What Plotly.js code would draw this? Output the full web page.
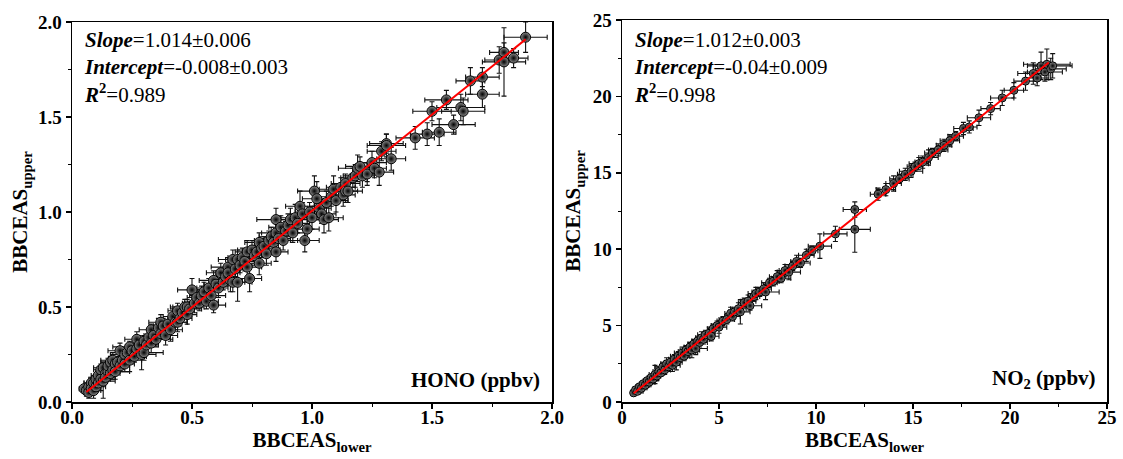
<!DOCTYPE html>
<html><head><meta charset="utf-8">
<script src="https://cdn.plot.ly/plotly-3.0.1.min.js"></script>
<style>html,body{margin:0;padding:0;background:#fff}#c{width:1123px;height:459px}</style>
</head><body><div id="c"></div>
<script>
// HONO panel
const honoX = [0.05,0.06,0.07,0.07,0.08,0.08,0.09,0.09,0.10,0.10,0.11,0.11,0.12,0.12,0.13,0.13,0.14,0.14,0.15,0.15,0.16,0.16,0.17,0.17,0.18,0.18,0.19,0.20,0.20,0.21,0.22,0.22,0.23,0.24,0.24,0.25,0.26,0.27,0.27,0.28,0.29,0.30,0.30,0.31,0.32,0.33,0.33,0.34,0.35,0.36,0.37,0.37,0.38,0.39,0.40,0.41,0.42,0.43,0.44,0.44,0.45,0.46,0.47,0.48,0.48,0.49,0.50,0.51,0.52,0.53,0.54,0.55,0.56,0.57,0.58,0.59,0.59,0.60,0.61,0.62,0.63,0.64,0.65,0.65,0.66,0.67,0.67,0.68,0.69,0.69,0.70,0.71,0.72,0.73,0.73,0.74,0.75,0.76,0.77,0.78,0.78,0.79,0.80,0.81,0.82,0.83,0.84,0.85,0.85,0.85,0.86,0.87,0.88,0.89,0.90,0.91,0.92,0.93,0.94,0.95,0.96,0.97,0.98,0.99,1.00,1.01,1.02,1.03,1.04,1.05,1.06,1.07,1.08,1.09,1.10,1.12,1.13,1.14,1.14,1.15,1.17,1.18,1.19,1.20,1.21,1.23,1.23,1.25,1.26,1.28,1.29,1.31,1.31,1.33,1.43,1.48,1.50,1.53,1.56,1.59,1.62,1.63,1.66,1.71,1.71,1.78,1.80,1.80,1.84,1.89];
const honoY = [0.07,0.06,0.08,0.05,0.10,0.07,0.10,0.06,0.12,0.08,0.14,0.10,0.12,0.17,0.11,0.18,0.15,0.13,0.16,0.19,0.15,0.21,0.17,0.22,0.20,0.16,0.21,0.27,0.19,0.22,0.25,0.20,0.26,0.29,0.22,0.27,0.24,0.33,0.28,0.30,0.25,0.26,0.32,0.30,0.34,0.38,0.31,0.35,0.33,0.39,0.42,0.36,0.40,0.35,0.41,0.38,0.45,0.42,0.48,0.42,0.44,0.47,0.50,0.46,0.50,0.49,0.59,0.52,0.55,0.52,0.56,0.58,0.53,0.60,0.56,0.64,0.51,0.62,0.60,0.68,0.63,0.66,0.71,0.68,0.64,0.63,0.75,0.70,0.63,0.75,0.72,0.76,0.74,0.79,0.71,0.65,0.80,0.77,0.79,0.84,0.73,0.81,0.82,0.78,0.85,0.87,0.84,0.89,0.96,0.79,0.86,0.92,0.85,0.90,0.93,0.96,0.89,0.97,0.94,1.03,0.99,0.85,0.91,1.00,0.97,1.11,1.07,1.02,0.99,0.96,1.05,0.97,1.08,1.12,1.06,1.13,1.09,1.15,1.11,1.11,1.18,1.19,1.23,1.24,1.19,1.21,1.20,1.26,1.23,1.21,1.32,1.36,1.35,1.28,1.39,1.41,1.53,1.42,1.59,1.46,1.55,1.53,1.69,1.71,1.62,1.80,1.84,1.79,1.81,1.92];
const honoEX = [0.02,0.02,0.03,0.02,0.03,0.02,0.04,0.03,0.03,0.04,0.03,0.03,0.04,0.03,0.05,0.04,0.03,0.04,0.05,0.03,0.04,0.04,0.03,0.05,0.04,0.06,0.03,0.05,0.04,0.04,0.06,0.04,0.03,0.07,0.05,0.04,0.05,0.05,0.04,0.04,0.06,0.08,0.04,0.05,0.04,0.05,0.03,0.04,0.07,0.04,0.05,0.04,0.04,0.05,0.04,0.05,0.04,0.05,0.04,0.04,0.05,0.04,0.05,0.04,0.07,0.05,0.06,0.05,0.04,0.06,0.05,0.04,0.05,0.05,0.06,0.06,0.05,0.05,0.04,0.06,0.05,0.04,0.07,0.05,0.05,0.05,0.06,0.05,0.06,0.05,0.05,0.06,0.05,0.05,0.06,0.05,0.06,0.05,0.05,0.06,0.05,0.05,0.04,0.05,0.06,0.05,0.05,0.06,0.08,0.05,0.05,0.05,0.06,0.05,0.05,0.07,0.05,0.06,0.05,0.06,0.05,0.06,0.05,0.06,0.05,0.07,0.06,0.05,0.06,0.06,0.05,0.06,0.05,0.06,0.05,0.06,0.05,0.06,0.05,0.06,0.05,0.05,0.08,0.06,0.05,0.06,0.05,0.06,0.05,0.06,0.06,0.07,0.08,0.06,0.08,0.07,0.08,0.07,0.09,0.09,0.10,0.09,0.06,0.07,0.07,0.06,0.06,0.09,0.06,0.09];
const honoEY = [0.02,0.03,0.02,0.03,0.03,0.02,0.03,0.04,0.03,0.03,0.04,0.03,0.06,0.03,0.09,0.03,0.04,0.03,0.03,0.04,0.03,0.03,0.05,0.04,0.03,0.04,0.03,0.04,0.03,0.05,0.03,0.04,0.04,0.03,0.06,0.04,0.03,0.04,0.03,0.05,0.08,0.04,0.03,0.04,0.04,0.03,0.05,0.04,0.04,0.05,0.04,0.03,0.04,0.05,0.04,0.06,0.04,0.04,0.04,0.05,0.04,0.04,0.04,0.05,0.04,0.04,0.06,0.05,0.04,0.04,0.05,0.05,0.04,0.05,0.04,0.05,0.04,0.04,0.05,0.05,0.04,0.05,0.05,0.04,0.06,0.05,0.05,0.04,0.10,0.05,0.04,0.05,0.05,0.06,0.05,0.07,0.05,0.05,0.04,0.05,0.06,0.05,0.05,0.06,0.05,0.05,0.06,0.06,0.06,0.05,0.05,0.06,0.05,0.05,0.06,0.06,0.05,0.07,0.05,0.08,0.06,0.06,0.07,0.05,0.06,0.08,0.09,0.06,0.05,0.07,0.06,0.07,0.05,0.07,0.06,0.05,0.06,0.05,0.06,0.06,0.05,0.06,0.07,0.05,0.06,0.05,0.06,0.06,0.05,0.07,0.05,0.05,0.06,0.06,0.06,0.06,0.05,0.07,0.05,0.05,0.07,0.07,0.07,0.05,0.07,0.07,0.05,0.18,0.05,0.08];
const honoFit = {slope: 1.014, intercept: -0.008, xmin: 0.06, xmax: 1.89};
const honoTicks = [0, 0.5, 1.0, 1.5, 2.0];
const honoTickText = ['0.0', '0.5', '1.0', '1.5', '2.0'];

// NO2 panel
const no2X = [0.6,0.7,0.8,0.9,1.0,1.1,1.2,1.3,1.4,1.5,1.6,1.7,1.8,1.9,2.0,2.1,2.2,2.3,2.4,2.5,2.6,2.7,2.8,2.9,3.0,3.1,3.2,3.3,3.4,3.5,3.6,3.7,3.8,3.9,4.0,4.1,4.2,4.3,4.5,4.6,4.7,4.9,5.0,5.2,5.4,5.6,5.7,5.8,6.0,6.1,6.3,6.5,6.6,6.8,6.9,7.1,7.3,7.4,7.6,7.8,8.0,8.2,8.4,8.6,8.8,9.0,9.2,9.5,9.8,10.2,11.0,12.0,12.0,13.2,13.6,14.0,14.3,14.6,14.9,15.1,15.3,15.5,15.8,16.0,16.3,16.6,16.9,17.2,17.6,17.9,18.4,19.0,19.6,20.2,20.8,21.2,21.4,21.6,21.8,21.9,22.1,22.2];
const no2Y = [0.6,0.8,0.7,1.0,0.9,1.2,1.1,1.4,1.3,1.6,1.5,1.8,1.7,2.0,1.9,2.3,2.1,2.5,2.3,2.6,2.4,2.8,2.6,3.0,2.9,3.2,3.0,3.4,3.3,3.6,3.4,3.8,3.5,4.0,3.9,4.2,4.1,4.4,4.5,4.3,4.8,5.0,4.9,5.3,5.4,5.8,5.6,5.9,6.1,5.9,6.5,6.6,6.3,6.9,7.1,7.2,7.4,7.2,7.8,7.9,8.2,8.1,8.6,8.5,8.9,9.2,9.1,9.6,9.9,10.2,11.0,11.3,12.6,13.6,13.9,14.3,14.6,14.9,15.1,15.4,15.6,15.7,16.0,16.3,16.5,16.8,17.1,17.4,17.9,18.0,18.6,19.2,19.9,20.4,21.0,21.5,21.2,22.0,21.6,22.1,21.8,22.0];
const no2EX = [0.1,0.15,0.1,0.2,0.15,0.2,0.2,0.2,0.3,0.2,0.25,0.3,0.2,0.3,0.2,0.4,0.3,0.3,0.2,0.3,0.4,0.3,0.3,0.4,0.3,0.4,0.3,0.3,0.5,0.3,0.4,0.3,0.6,0.3,0.4,0.3,0.3,0.4,0.3,0.4,0.3,0.3,0.4,0.3,0.4,0.3,0.4,0.3,0.4,0.5,0.3,0.4,0.6,0.3,0.4,0.3,0.4,0.7,0.4,0.3,0.4,0.5,0.3,0.6,0.4,0.3,0.5,0.4,0.3,0.6,0.6,0.8,0.6,0.4,0.5,0.4,0.5,0.4,0.6,0.4,0.5,0.4,0.5,0.4,0.5,0.4,0.5,0.4,0.5,0.4,0.6,0.5,0.6,0.5,0.6,0.8,0.6,0.7,0.9,1.2,0.8,1.0];
const no2EY = [0.2,0.2,0.2,0.2,0.3,0.2,0.3,0.2,0.3,0.2,0.3,0.6,0.3,0.3,0.2,0.3,0.3,0.4,0.3,0.3,0.4,0.3,0.5,0.3,0.3,0.4,0.3,0.3,0.4,0.3,0.5,0.3,0.4,0.3,0.3,0.4,0.3,0.3,0.4,0.3,0.3,0.3,0.4,0.3,0.3,0.4,0.3,0.3,0.4,0.8,0.3,0.4,0.3,0.3,0.4,0.3,0.4,0.5,0.3,0.3,0.4,0.3,0.4,0.5,0.3,0.4,0.3,0.4,0.3,0.8,0.5,1.5,0.5,0.4,0.4,0.5,0.3,0.4,0.4,0.3,0.4,0.4,0.5,0.3,0.4,0.4,0.4,0.3,0.4,0.4,0.5,0.4,0.5,0.5,0.6,0.7,0.5,0.9,0.6,1.0,0.7,0.8];
const no2Fit = {slope: 1.012, intercept: -0.04, xmin: 0.6, xmax: 22.0};
const no2Ticks = [0, 5, 10, 15, 20, 25];
const no2TickText = ['0', '5', '10', '15', '20', '25'];

const serif = 'Times New Roman';
function pts(xs, ys, exs, eys, xa, ya, size) {
  return {x: xs, y: ys, xaxis: xa, yaxis: ya, type: 'scatter', mode: 'markers',
    marker: {size: size, color: '#8a8a8a', gradient: {type: 'radial', color: '#000'}, line: {color: '#000', width: 1}},
    error_x: {type: 'data', array: exs, visible: true, color: '#111', thickness: 1.1, width: 2.5},
    error_y: {type: 'data', array: eys, visible: true, color: '#111', thickness: 1.1, width: 2.5},
    showlegend: false, hoverinfo: 'skip'};
}
function fit(f, xa, ya) {
  const xs = [f.xmin, f.xmax];
  return {x: xs, y: xs.map(v => f.slope * v + f.intercept), xaxis: xa, yaxis: ya, type: 'scatter', mode: 'lines',
    line: {color: '#ff0000', width: 2}, showlegend: false, hoverinfo: 'skip'};
}
function ax(domain, range, vals, texts, minor, anchor, title, standoff, lblOff) {
  return {domain: domain, range: range, anchor: anchor, tickmode: 'array', tickvals: vals,
    ticktext: texts.map(t => '<b>' + t + '</b>'), ticklabelstandoff: lblOff,
    showgrid: false, zeroline: false, showline: true, mirror: true, linecolor: '#000', linewidth: 1.5,
    ticks: 'outside', ticklen: 5, tickwidth: 1.5, tickcolor: '#000',
    minor: {dtick: minor, tick0: 0, ticks: 'outside', ticklen: 3, tickwidth: 1, tickcolor: '#000', showgrid: false},
    tickfont: {family: serif, size: 19, color: '#000'},
    title: {text: '<b>' + title + '</b>', font: {family: serif, size: 21, color: '#000'}, standoff: standoff},
    automargin: false, fixedrange: true};
}
const data = [
  pts(honoX, honoY, honoEX, honoEY, 'x', 'y', 10),
  fit(honoFit, 'x', 'y'),
  pts(no2X, no2Y, no2EX, no2EY, 'x2', 'y2', 8),
  fit(no2Fit, 'x2', 'y2')
];
const yD1 = [1 - 402/459, 1 - 22/459];
const yD2 = [1 - 402/459, 1 - 20/459];
const layout = {
  width: 1123, height: 459, margin: {l: 0, r: 0, t: 0, b: 0},
  paper_bgcolor: '#fff', plot_bgcolor: '#fff',
  font: {family: serif},
  xaxis: ax([72/1123, 552/1123], [0, 2.0], honoTicks, honoTickText, 0.25, 'y', 'BBCEAS<sub>lower</sub>', 2, -7),
  yaxis: ax(yD1, [0, 2.0], honoTicks, honoTickText, 0.25, 'x', 'BBCEAS<sub>upper</sub>', 4, 0),
  xaxis2: ax([622/1123, 1107/1123], [0, 25], no2Ticks, no2TickText, 2.5, 'y2', 'BBCEAS<sub>lower</sub>', 2, -7),
  yaxis2: ax(yD2, [0, 25], no2Ticks, no2TickText, 2.5, 'x2', 'BBCEAS<sub>upper</sub>', 6, 0),
  annotations: [
    {xref: 'paper', yref: 'paper', x: 82/1123, y: 1 - 26/459, xanchor: 'left', yanchor: 'top', align: 'left', showarrow: false,
     text: '<b><i>Slope</i></b>=1.014±0.006<br><b><i>Intercept</i></b>=-0.008±0.003<br><b><i>R</i><sup>2</sup></b>=0.989',
     font: {family: serif, size: 21, color: '#000'}},
    {xref: 'paper', yref: 'paper', x: 632/1123, y: 1 - 26/459, xanchor: 'left', yanchor: 'top', align: 'left', showarrow: false,
     text: '<b><i>Slope</i></b>=1.012±0.003<br><b><i>Intercept</i></b>=-0.04±0.009<br><b><i>R</i><sup>2</sup></b>=0.998',
     font: {family: serif, size: 21, color: '#000'}},
    {xref: 'paper', yref: 'paper', x: 542/1123, y: 1 - 394/459, xanchor: 'right', yanchor: 'bottom', showarrow: false,
     text: '<b>HONO (ppbv)</b>', font: {family: serif, size: 21, color: '#000'}},
    {xref: 'paper', yref: 'paper', x: 1098/1123, y: 1 - 394/459, xanchor: 'right', yanchor: 'bottom', showarrow: false,
     text: '<b>NO<sub>2</sub> (ppbv)</b>', font: {family: serif, size: 21, color: '#000'}}
  ]
};
Plotly.newPlot('c', data, layout, {displayModeBar: false, staticPlot: true});
</script></body></html>
